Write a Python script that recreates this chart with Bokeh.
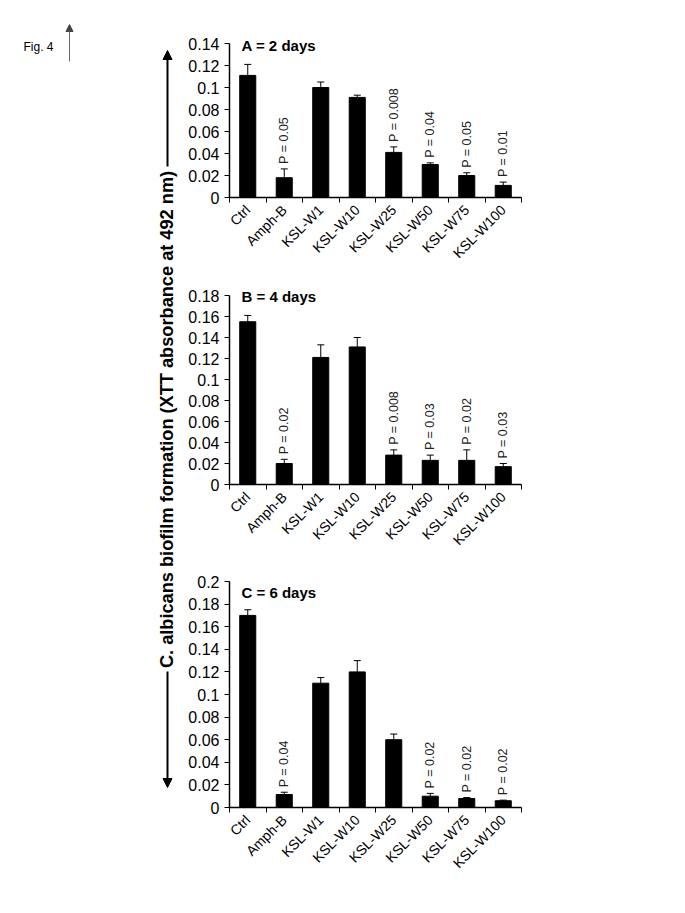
from math import pi
from bokeh.plotting import figure
from bokeh.layouts import row, column
from bokeh.models import (ColumnDataSource, Range1d, FixedTicker, CustomJSTickFormatter,
                          Whisker, TeeHead, Arrow, NormalHead)
from bokeh.core.properties import value
from bokeh.embed import file_html
from bokeh.resources import INLINE

# ---------------- data ----------------
categories = ["Ctrl", "Amph-B", "KSL-W1", "KSL-W10", "KSL-W25", "KSL-W50", "KSL-W75", "KSL-W100"]

a_title = "A = 2 days"
a_mean = [0.111, 0.018, 0.100, 0.091, 0.041, 0.030, 0.020, 0.011]
a_err = [0.010, 0.008, 0.005, 0.002, 0.005, 0.0015, 0.0025, 0.003]
a_p = [None, "P = 0.05", None, None, "P = 0.008", "P = 0.04", "P = 0.05", "P = 0.01"]
a_yticks = [0, 0.02, 0.04, 0.06, 0.08, 0.1, 0.12, 0.14]

b_title = "B = 4 days"
b_mean = [0.155, 0.020, 0.121, 0.131, 0.028, 0.023, 0.023, 0.017]
b_err = [0.006, 0.004, 0.012, 0.009, 0.005, 0.005, 0.010, 0.003]
b_p = [None, "P = 0.02", None, None, "P = 0.008", "P = 0.03", "P = 0.02", "P = 0.03"]
b_yticks = [0, 0.02, 0.04, 0.06, 0.08, 0.1, 0.12, 0.14, 0.16, 0.18]

c_title = "C = 6 days"
c_mean = [0.170, 0.0115, 0.110, 0.120, 0.060, 0.010, 0.008, 0.006]
c_err = [0.005, 0.002, 0.005, 0.010, 0.005, 0.0025, 0.0008, 0.0005]
c_p = [None, "P = 0.04", None, None, None, "P = 0.02", "P = 0.02", "P = 0.02"]
c_yticks = [0, 0.02, 0.04, 0.06, 0.08, 0.1, 0.12, 0.14, 0.16, 0.18, 0.2]

y_label = "C. albicans biofilm formation (XTT absorbance at 492 nm)"
fig_label = "Fig. 4"

FONT = "Liberation Sans"
PAD = 20  # px of empty frame above the top tick (room for the panel title)


def panel(title, means, errs, pvals, yticks, axis_h, top_b, bot_b, title_dy):
    n = len(categories)
    xs = [i + 0.5 for i in range(n)]
    upper = [m + e for m, e in zip(means, errs)]
    ymax = yticks[-1]
    y_end = ymax * (axis_h + PAD) / axis_h
    p = figure(frame_width=292, frame_height=axis_h + PAD,
               x_range=Range1d(0, n), y_range=Range1d(0, y_end),
               output_backend="svg", toolbar_location=None,
               min_border_left=51, min_border_right=20,
               min_border_top=top_b - PAD, min_border_bottom=bot_b,
               outline_line_color=None)
    p.xgrid.visible = False
    p.ygrid.visible = False

    src = ColumnDataSource(dict(x=xs, top=means, upper=upper))
    p.vbar(x="x", top="top", bottom=0, width=0.44, source=src,
           fill_color="black", line_color="black")
    p.add_layout(Whisker(source=src, base="x", lower="top", upper="upper",
                         dimension="height", line_color="black", line_width=1,
                         upper_head=TeeHead(size=7, line_color="black", line_width=1),
                         lower_head=None))

    idx = [i for i, pv in enumerate(pvals) if pv]
    psrc = ColumnDataSource(dict(x=[xs[i] for i in idx], y=[upper[i] for i in idx],
                                 t=[pvals[i] for i in idx]))
    p.text(x="x", y="y", text="t", source=psrc, angle=pi / 2,
           text_align="left", text_baseline="middle", y_offset=-5,
           text_font=value(FONT), text_font_size="12.5px", text_color="#222222")

    p.text(x=[0], y=[ymax], text=[title], x_offset=12, y_offset=title_dy,
           text_font=value(FONT), text_font_size="15px", text_font_style="bold",
           text_align="left", text_baseline="alphabetic", text_color="black")

    xa = p.xaxis[0]
    xa.ticker = FixedTicker(ticks=xs, minor_ticks=list(range(n + 1)))
    xa.formatter = CustomJSTickFormatter(args=dict(names=categories),
                                         code="return names[Math.round(tick - 0.5)];")
    xa.major_label_orientation = pi / 4
    xa.major_tick_line_color = None
    xa.minor_tick_line_color = "black"
    xa.minor_tick_in = 0
    xa.minor_tick_out = 5
    xa.axis_line_width = 1.5
    xa.axis_line_color = "black"
    xa.major_label_text_font = FONT
    xa.major_label_text_font_size = "14px"
    xa.major_label_text_color = "black"
    xa.major_label_standoff = 4

    ya = p.yaxis[0]
    ya.bounds = (0, ymax)
    ya.ticker = FixedTicker(ticks=yticks)
    ya.formatter = CustomJSTickFormatter(code="return String(parseFloat(tick.toFixed(3)));")
    ya.major_tick_in = 0
    ya.major_tick_out = 5
    ya.minor_tick_line_color = None
    ya.axis_line_width = 1.5
    ya.axis_line_color = "black"
    ya.major_label_text_font = FONT
    ya.major_label_text_font_size = "16px"
    ya.major_label_text_color = "black"
    ya.major_label_standoff = 5
    return p


pa = panel(a_title, a_mean, a_err, a_p, a_yticks, 154, 43, 75, 2)
pb = panel(b_title, b_mean, b_err, b_p, b_yticks, 189, 23, 72, 1)
pc = panel(c_title, c_mean, c_err, c_p, c_yticks, 226, 25, 80, 11)

# left annotation column (pixel coordinates, y downward)
left = figure(width=178, height=887, x_range=Range1d(0, 178), y_range=Range1d(887, 0),
              x_axis_location=None, y_axis_location=None, min_border=0,
              outline_line_color=None, toolbar_location=None, output_backend="svg")
left.grid.visible = False
left.text(x=[23], y=[46], text=[fig_label], text_font=value(FONT), text_font_size="12px",
          text_align="left", text_baseline="alphabetic", text_color="black")
left.add_layout(Arrow(end=NormalHead(size=7, fill_color="#444444", line_color="#444444"),
                      x_start=69, y_start=61, x_end=69, y_end=24,
                      line_color="#666666", line_width=1))
left.add_layout(Arrow(end=NormalHead(size=9, fill_color="black", line_color="black"),
                      x_start=167, y_start=166, x_end=167, y_end=50,
                      line_color="black", line_width=2))
left.add_layout(Arrow(end=NormalHead(size=9, fill_color="black", line_color="black"),
                      x_start=167, y_start=671, x_end=167, y_end=787,
                      line_color="black", line_width=2))
left.text(x=[166], y=[419], text=[y_label], angle=pi / 2, text_align="center",
          text_baseline="middle", text_font=value(FONT), text_font_size="18.2px",
          text_font_style="bold", text_color="black")

layout = row(left, column(pa, pb, pc))
open("out.html", "w").write(file_html(layout, INLINE, title="Fig. 4"))
